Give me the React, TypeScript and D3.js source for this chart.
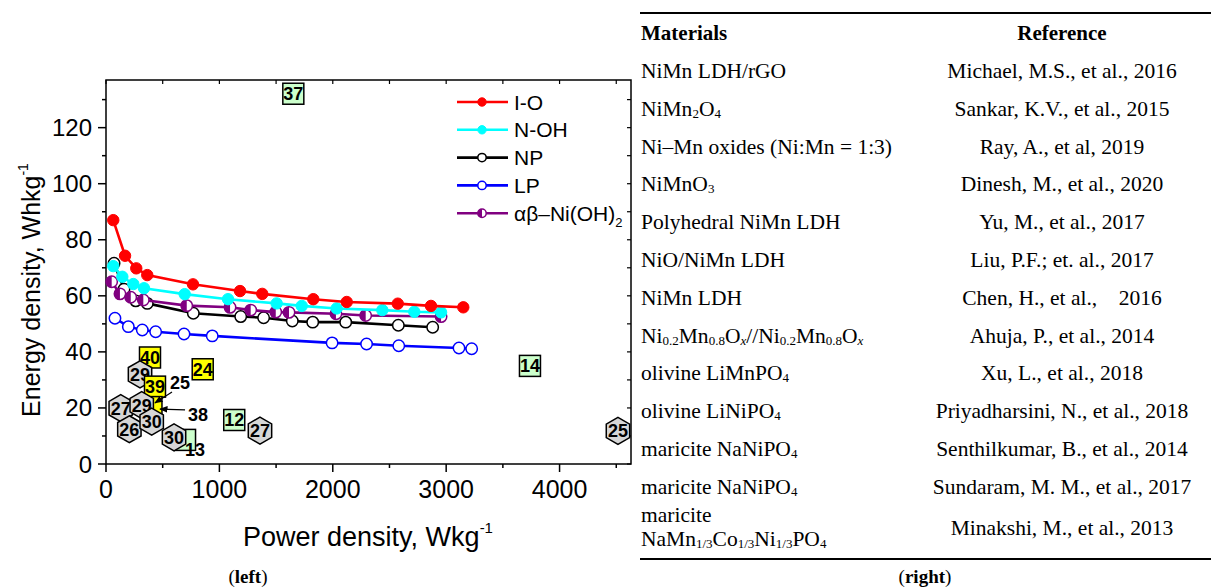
import * as d3 from "d3";

// ---- series (power density W/kg, energy density Wh/kg) ----
const seriesNames = ["I-O", "N-OH", "NP", "LP", "αβ–Ni(OH)"];
const ioX = [64, 168, 267, 364, 767, 1182, 1378, 1828, 2123, 2573, 2866, 3151];
const ioY = [87.0, 74.3, 69.8, 67.4, 64.1, 61.7, 60.7, 58.8, 57.8, 57.2, 56.4, 55.9];
const nohX = [64, 144, 241, 335, 694, 1076, 1505, 1726, 2034, 2437, 2719, 2955];
const nohY = [70.6, 66.8, 64.2, 62.7, 60.6, 58.8, 57.3, 56.4, 55.5, 54.9, 54.3, 54.1];
const npX = [71, 159, 262, 364, 770, 1188, 1390, 1643, 1823, 2114, 2578, 2881];
const npY = [71.6, 62.4, 58.2, 57.3, 53.8, 52.6, 52.2, 51.0, 50.6, 50.6, 49.5, 48.8];
const lpX = [79, 197, 320, 438, 688, 937, 1994, 2298, 2582, 3113, 3225];
const lpY = [52.0, 49.0, 47.8, 47.2, 46.4, 45.7, 43.2, 42.8, 42.2, 41.4, 41.1];
const abX = [50, 123, 218, 329, 712, 1094, 1276, 1497, 1614, 2028, 2290, 2955];
const abY = [65.0, 60.7, 59.5, 58.5, 56.5, 55.9, 54.9, 54.2, 54.1, 53.6, 53.0, 52.6];

// ---- literature points (reference numbers) ----
const refLabel = ["40", "29", "39", "24", "", "27", "29", "26", "30", "", "30", "12", "27", "14", "37", "25"];
const refShape = ["sq", "hex", "sq", "sq", "sq", "hex", "hex", "hex", "hex", "sq", "hex", "sq", "hex", "sq", "sq", "hex"];
const refFill = ["y", "g", "y", "y", "y", "g", "g", "g", "g", "l", "g", "l", "g", "l", "l", "g"];
const refX = [388, 300, 432, 853, 401, 130, 315, 206, 403, 697, 600, 1131, 1358, 3739, 1652, 4515];
const refY = [38.0, 32.0, 27.6, 33.8, 20.3, 19.9, 21.0, 12.4, 15.1, 8.6, 9.5, 15.7, 11.9, 35.0, 132.1, 11.8];

// text annotations (some with arrows)
const annText = ["25", "38", "13"];
const annX = [653, 811, 785];
const annY = [28.9, 17.5, 5.35];
const annFromX = [582, 697, NaN];
const annFromY = [25.7, 19.3, NaN];
const annToX = [432, 476, NaN];
const annToY = [21.8, 19.6, NaN];

const xTicks = [0, 1000, 2000, 3000, 4000];
const yTicks = [0, 20, 40, 60, 80, 100, 120];

// ---- table ----
const tableHead = ["Materials", "Reference"];
const materials = [
  ["NiMn LDH/rGO"],
  ["NiMn_{2}O_{4}"],
  ["Ni–Mn oxides (Ni:Mn = 1:3)"],
  ["NiMnO_{3}"],
  ["Polyhedral NiMn LDH"],
  ["NiO/NiMn LDH"],
  ["NiMn LDH"],
  ["Ni_{0.2}Mn_{0.8}O_{x}//Ni_{0.2}Mn_{0.8}O_{x}"],
  ["olivine LiMnPO_{4}"],
  ["olivine LiNiPO_{4}"],
  ["maricite NaNiPO_{4}"],
  ["maricite NaNiPO_{4}"],
  ["maricite", "NaMn_{1/3}Co_{1/3}Ni_{1/3}PO_{4}"],
];
const references = [
  "Michael, M.S., et al., 2016",
  "Sankar, K.V., et al., 2015",
  "Ray, A., et al, 2019",
  "Dinesh, M., et al., 2020",
  "Yu, M., et al., 2017",
  "Liu, P.F.; et. al., 2017",
  "Chen, H., et al.,\u00a0\u00a0\u00a0\u00a02016",
  "Ahuja, P., et al., 2014",
  "Xu, L., et al., 2018",
  "Priyadharsini, N., et al., 2018",
  "Senthilkumar, B., et al., 2014",
  "Sundaram, M. M., et al., 2017",
  "Minakshi, M., et al., 2013",
];

const SANS = "'Liberation Sans', Arial, sans-serif";
const SERIF = "'Liberation Serif', 'Times New Roman', serif";

const x = d3.scaleLinear().domain([0, 4630]).range([106, 631]);
const y = d3.scaleLinear().domain([0, 137]).range([464, 80]);

const fills: Record<string, string> = { y: "#ffff00", g: "#d6d6d6", l: "#ccffcc" };

function hexPath(cx: number, cy: number, r: number) {
  const pts = d3.range(6).map((i) => {
    const a = ((-90 + 60 * i) * Math.PI) / 180;
    return [cx + r * Math.cos(a), cy + r * Math.sin(a)];
  });
  return "M" + pts.map((p) => p.join(",")).join("L") + "Z";
}

// "_{..}" marks a subscript
function rich(s: string, subSize: number, key: string) {
  const out: any[] = [];
  const re = /_\{([^}]*)\}/g;
  let last = 0;
  let inSub = false;
  let m: RegExpExecArray | null;
  let k = 0;
  const push = (t: string, sub: boolean) => {
    if (!t) return;
    const dy = sub === inSub ? 0 : sub ? 2 : -2;
    out.push(
      <tspan
        key={key + k++}
        dy={dy}
        fontSize={sub ? subSize : undefined}
        fontStyle={sub && t === "x" ? "italic" : undefined}
      >
        {t}
      </tspan>
    );
    inSub = sub;
  };
  while ((m = re.exec(s))) {
    push(s.slice(last, m.index), false);
    push(m[1], true);
    last = m.index + m[0].length;
  }
  push(s.slice(last), false);
  return out;
}

const series = [
  { xs: npX, ys: npY, color: "#000000", kind: "open", idx: 2 },
  { xs: lpX, ys: lpY, color: "#0000ff", kind: "open", idx: 3 },
  { xs: abX, ys: abY, color: "#800080", kind: "half", idx: 4 },
  { xs: nohX, ys: nohY, color: "#00ffff", kind: "full", idx: 1 },
  { xs: ioX, ys: ioY, color: "#ff0000", kind: "full", idx: 0 },
];
const legendKinds = ["full", "full", "open", "open", "half"];
const legendColors = ["#ff0000", "#00ffff", "#000000", "#0000ff", "#800080"];

function Marker({ cx, cy, r, color, kind }: any) {
  if (kind === "full") return <circle cx={cx} cy={cy} r={r} fill={color} stroke={color} strokeWidth={1} />;
  if (kind === "open") return <circle cx={cx} cy={cy} r={r} fill="#fff" stroke={color} strokeWidth={1.5} />;
  return (
    <g>
      <circle cx={cx} cy={cy} r={r} fill="#fff" stroke={color} strokeWidth={1.5} />
      <path d={`M${cx},${cy - r}A${r},${r} 0 0 0 ${cx},${cy + r}Z`} fill={color} />
    </g>
  );
}

export default function App() {
  const minorX = d3.range(0, 4630, 500);
  const minorY = d3.range(0, 137, 10);
  const tableRowY = d3.range(materials.length).map((i) => 71 + i * 37.8);
  const refCol = 1062;

  return (
    <svg width={1211} height={588} style={{ position: "absolute", left: 0, top: 0, background: "#fff" }}>
      <defs>
        <marker id="arr" viewBox="0 0 10 10" refX="9" refY="5" markerWidth="7" markerHeight="7" orient="auto">
          <path d="M0,1L10,5L0,9Z" fill="#000" />
        </marker>
      </defs>

      {/* frame */}
      <rect x={x(0)} y={y(137)} width={x(4630) - x(0)} height={y(0) - y(137)} fill="none" stroke="#000" strokeWidth={1.5} />

      {/* bottom ticks (outward) + top ticks (inward) */}
      {minorX.map((t) => (
        <g key={"tx" + t}>
          <line x1={x(t)} x2={x(t)} y1={y(0)} y2={y(0) + (t % 1000 === 0 ? 8 : 4)} stroke="#000" strokeWidth={1.5} />
          <line x1={x(t)} x2={x(t)} y1={y(137)} y2={y(137) + 4} stroke="#000" strokeWidth={1.2} />
        </g>
      ))}
      {minorY.map((t) => (
        <g key={"ty" + t}>
          <line x1={x(0)} x2={x(0) - (t % 20 === 0 ? 8 : 4)} y1={y(t)} y2={y(t)} stroke="#000" strokeWidth={1.5} />
          <line x1={x(4630)} x2={x(4630) - 4} y1={y(t)} y2={y(t)} stroke="#000" strokeWidth={1.2} />
        </g>
      ))}
      {xTicks.map((t) => (
        <text key={"xl" + t} x={x(t)} y={498} textAnchor="middle" fontFamily={SANS} fontSize={25}>
          {t}
        </text>
      ))}
      {yTicks.map((t) => (
        <text key={"yl" + t} x={92} y={y(t) + 8.5} textAnchor="end" fontFamily={SANS} fontSize={24}>
          {t}
        </text>
      ))}

      {/* axis titles */}
      <text x={368} y={546} textAnchor="middle" fontFamily={SANS} fontSize={27}>
        Power density, Wkg<tspan dy={-13} fontSize={15}>-1</tspan>
      </text>
      <text transform="translate(40,290) rotate(-90)" textAnchor="middle" fontFamily={SANS} fontSize={25}>
        Energy density, Whkg<tspan dy={-12} fontSize={14}>-1</tspan>
      </text>

      {/* series */}
      {series.map((s) => {
        const pts = s.xs.map((v, i) => [x(v), y(s.ys[i])] as [number, number]);
        const path = d3.line()(pts) || "";
        return (
          <g key={"s" + s.idx}>
            <path d={path} fill="none" stroke={s.color} strokeWidth={2.6} />
            {pts.map((p, i) => (
              <Marker key={i} cx={p[0]} cy={p[1]} r={5.7} color={s.color} kind={s.kind} />
            ))}
          </g>
        );
      })}

      {/* literature markers */}
      {refX.map((v, i) => {
        const cx = x(v);
        const cy = y(refY[i]);
        return (
          <g key={"r" + i}>
            {refShape[i] === "sq" ? (
              <rect x={cx - 10.5} y={cy - 10.5} width={21} height={21} fill={fills[refFill[i]]} stroke="#000" strokeWidth={1.5} />
            ) : (
              <path d={hexPath(cx, cy, 13.5)} fill={fills[refFill[i]]} stroke="#000" strokeWidth={1.5} />
            )}
            {refLabel[i] && (
              <text x={cx} y={cy + 6.5} textAnchor="middle" fontFamily={SANS} fontWeight="bold" fontSize={18}>
                {refLabel[i]}
              </text>
            )}
          </g>
        );
      })}

      {/* annotations */}
      {annText.map((t, i) => (
        <g key={"a" + i}>
          {!isNaN(annToX[i]) && (
            <line
              x1={x(annFromX[i])}
              y1={y(annFromY[i])}
              x2={x(annToX[i])}
              y2={y(annToY[i])}
              stroke="#000"
              strokeWidth={1.2}
              markerEnd="url(#arr)"
            />
          )}
          <text x={x(annX[i])} y={y(annY[i]) + 6.5} textAnchor="middle" fontFamily={SANS} fontWeight="bold" fontSize={18}>
            {t}
          </text>
        </g>
      ))}

      {/* legend */}
      {seriesNames.map((n, i) => {
        const ly = 102 + i * 27.8;
        return (
          <g key={"lg" + i}>
            <line x1={457} x2={508} y1={ly} y2={ly} stroke={legendColors[i]} strokeWidth={2.6} />
            <Marker cx={482} cy={ly} r={4.2} color={legendColors[i]} kind={legendKinds[i]} />
            <text x={514} y={ly + 7.5} fontFamily={SANS} fontSize={21}>
              {n}
              {i === 4 && (
                <tspan dy={6} fontSize={13}>
                  2
                </tspan>
              )}
            </text>
          </g>
        );
      })}

      {/* table */}
      <line x1={640} x2={1211} y1={13} y2={13} stroke="#000" strokeWidth={2} />
      <line x1={640} x2={1211} y1={559} y2={559} stroke="#000" strokeWidth={2} />
      <text x={641} y={40} fontFamily={SERIF} fontWeight="bold" fontSize={21}>
        {tableHead[0]}
      </text>
      <text x={refCol} y={40} textAnchor="middle" fontFamily={SERIF} fontWeight="bold" fontSize={21}>
        {tableHead[1]}
      </text>
      {materials.map((m, i) => {
        const ry = tableRowY[i];
        const two = m.length > 1;
        return (
          <g key={"row" + i}>
            {m.map((ln, j) => (
              <text key={j} x={641} y={(two ? ry - 10 + j * 24 : ry) + 7} fontFamily={SERIF} fontSize={21.5}>
                {rich(ln, 13, "t" + i + j)}
              </text>
            ))}
            <text x={refCol} y={(two ? ry + 3 : ry) + 7} textAnchor="middle" fontFamily={SERIF} fontSize={21.5}>
              {references[i]}
            </text>
          </g>
        );
      })}

      {/* captions */}
      <text x={248} y={583} textAnchor="middle" fontFamily={SERIF} fontSize={19}>
        (<tspan fontWeight="bold">left</tspan>)
      </text>
      <text x={925} y={583} textAnchor="middle" fontFamily={SERIF} fontSize={19}>
        (<tspan fontWeight="bold">right</tspan>)
      </text>
    </svg>
  );
}
